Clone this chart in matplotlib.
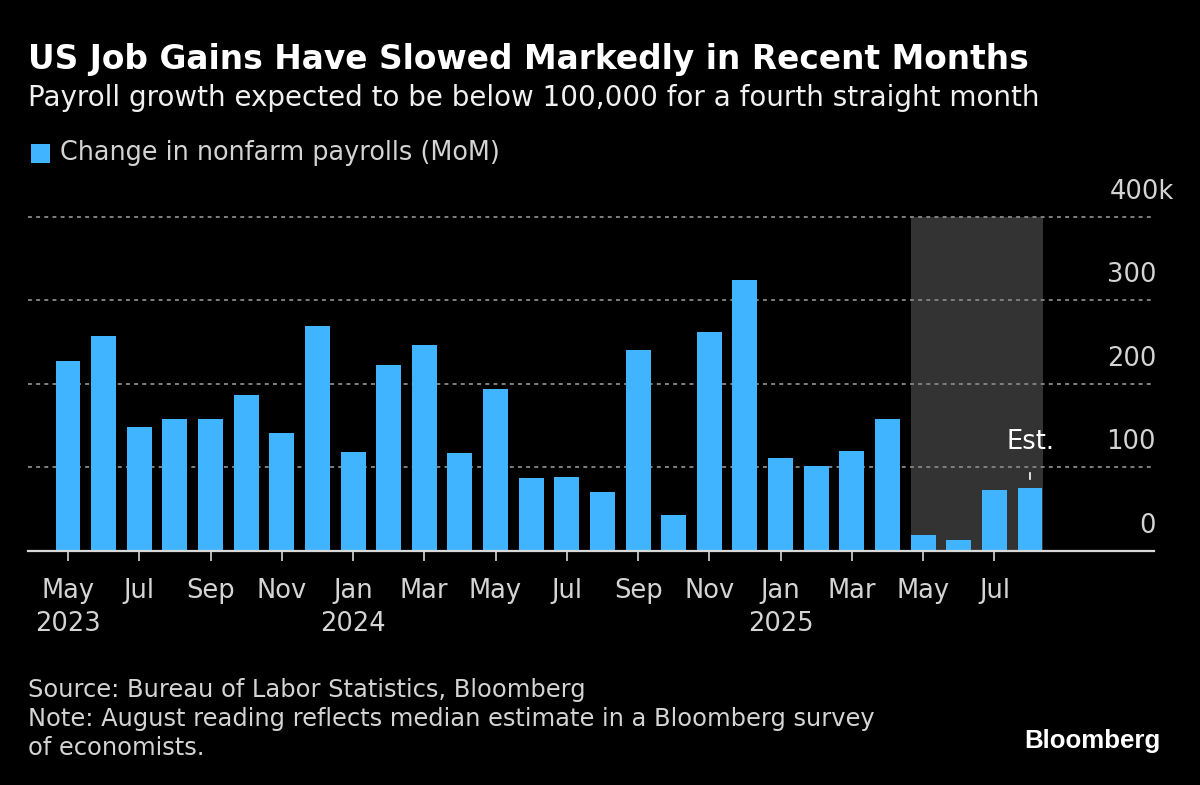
import numpy as np
import matplotlib
matplotlib.use("Agg")
import matplotlib.pyplot as plt

# DATA ###############################################################
MONTHS = ["May", "Jun", "Jul", "Aug", "Sep", "Oct", "Nov", "Dec", "Jan", "Feb",
          "Mar", "Apr", "May", "Jun", "Jul", "Aug", "Sep", "Oct", "Nov", "Dec",
          "Jan", "Feb", "Mar", "Apr", "May", "Jun", "Jul", "Aug"]
PAYROLLS = [227, 257, 148, 158, 158, 186, 141, 269, 118, 222,
            246, 117, 194, 87, 88, 70, 240, 43, 262, 324,
            111, 102, 120, 158, 19, 13, 73, 75]
YEARS = {0: "2023", 8: "2024", 20: "2025"}
Y_TICKS = [0, 100, 200, 300, 400]
Y_LABELS = ["0", "100", "200", "300", "400k"]
SHADE_START = 24
SHADE_END = 27

# STYLE ##############################################################
W, H = 1200, 785
BLUE = "#40b4ff"
TEXT = "#d4d4d4"
GRID = "#808080"
FONT = "DejaVu Sans"
plt.rcParams["font.family"] = FONT

fig = plt.figure(figsize=(W / 100, H / 100), dpi=100, facecolor="black")
# axes box in pixels: x 28-1154, y 216.5-551
ax = fig.add_axes([28 / W, 1 - 551 / H, (1154 - 28) / W, (551 - 216.5) / H])
ax.set_facecolor("black")

x = np.arange(len(PAYROLLS))
step = 35.63
ax.set_xlim(-(68 - 28) / step, (1154 - 68) / step)
ax.set_ylim(0, 400)

ax.axvspan(SHADE_START - 0.35, SHADE_END + 0.37, color="#333333", lw=0, zorder=1)
for t in Y_TICKS[1:]:
    ax.axhline(t, color=GRID, lw=1.4, ls=(0, (2, 2.2)), zorder=2, clip_on=False)
ax.bar(x, PAYROLLS, width=0.7, color=BLUE, zorder=3)

for s in ["top", "left", "right"]:
    ax.spines[s].set_visible(False)
ax.spines["bottom"].set_color("#d8d8d8")
ax.spines["bottom"].set_linewidth(1.6)
ax.spines["bottom"].set_zorder(4)

# x ticks every second month, year under the first month of the year
ticks = x[::2]
labels = [MONTHS[i] + ("\n" + YEARS[i] if i in YEARS else "\n") for i in ticks]
ax.set_xticks(ticks)
ax.set_xticklabels(labels, fontsize=18.5, color=TEXT, linespacing=1.32, va="top")
ax.tick_params(axis="x", length=7, width=1.2, color="#d8d8d8", pad=12.7)
ax.set_yticks([])

# y labels sit above their grid line, the k of the top label hangs past the axis
for t, lab in zip(Y_TICKS, Y_LABELS):
    ha = "left" if lab.endswith("k") else "right"
    off = -32 if lab.endswith("k") else 1.5
    ax.annotate(lab, xy=(1, t), xycoords=("axes fraction", "data"), xytext=(off, 8.6),
                textcoords="offset points", ha=ha, va="bottom",
                fontsize=18.5, color=TEXT)

# estimate marker
ax.annotate("Est.", xy=(x[-1], PAYROLLS[-1]), xytext=(0, 24.3), textcoords="offset points",
            ha="center", va="bottom", fontsize=18.5, color="white", zorder=5)
ax.plot([x[-1], x[-1]], [PAYROLLS[-1] + 11, PAYROLLS[-1] + 18], color="white", lw=1.2, zorder=5)

# HEADER AND FOOTER ##################################################
def put(px, py, s, **kw):
    fig.text(px / W, 1 - py / H, s, va="center", **kw)

put(28, 60, "US Job Gains Have Slowed Markedly in Recent Months",
    fontsize=23.65, fontweight="bold", color="white")
put(28, 98, "Payroll growth expected to be below 100,000 for a fourth straight month",
    fontsize=20.03, color="#f0f0f0")

fig.patches.append(plt.Rectangle((31 / W, 1 - 163 / H), 19 / W, 19.5 / H, transform=fig.transFigure,
                                 facecolor=BLUE, edgecolor="none"))
put(60, 153, "Change in nonfarm payrolls (MoM)", fontsize=18.4, color=TEXT)

put(28, 690, "Source: Bureau of Labor Statistics, Bloomberg", fontsize=17.35, color=TEXT)
put(28, 719, "Note: August reading reflects median estimate in a Bloomberg survey", fontsize=17.35, color=TEXT)
put(28, 748, "of economists.", fontsize=17.35, color=TEXT)

fig.text(1161 / W, 1 - 741 / H, "Bloomberg", ha="right", va="center",
         fontsize=18.6, fontweight="bold", color="white", family="Liberation Sans")

plt.savefig("out.png", dpi=100, facecolor="black")
